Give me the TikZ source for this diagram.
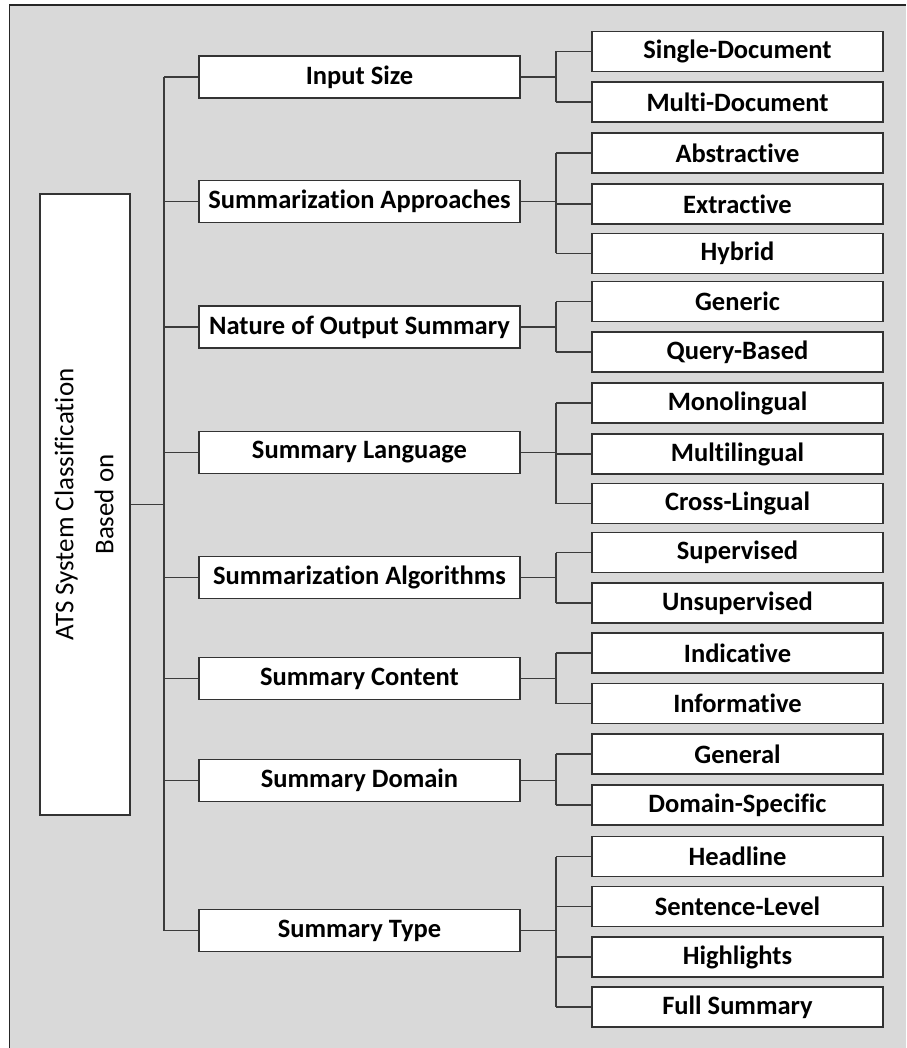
\documentclass[tikz,border=0pt]{standalone}
\usepackage{fontspec}
\setmainfont{Carlito}[Ligatures=NoCommon]
\definecolor{panel}{HTML}{D9D9D9}
\definecolor{wire}{HTML}{3C3C3C}
\begin{document}
\begin{tikzpicture}[x=1pt,y=-1pt,
  box/.style={draw=black!80,line width=1.5pt,fill=white,inner sep=0pt,anchor=center},
  rootbox/.style={box,minimum width=90pt,minimum height=621pt},
  catbox/.style={box,minimum width=321pt,minimum height=42pt,font=\fontsize{26.5}{30}\selectfont\bfseries},
  leafbox/.style={box,minimum width=291pt,minimum height=40pt,font=\fontsize{26.5}{30}\selectfont\bfseries},
  link/.style={draw=wire,line width=1.8pt}]
  % canvas and panel
  \useasboundingbox (0,0) rectangle (906,1048);
  \fill[white] (0,0) rectangle (906,1048);
  \fill[panel] (9.5,5) rectangle (906,1048);
  \draw[black!85,line width=1.5pt] (9.5,1048) -- (9.5,5) -- (906,5);

  % anchor columns for the two levels of branching
  \coordinate (tr) at (164,0);
  \coordinate (br) at (556,0);

  % root
  \node[rootbox] (root) at (85,504.5) {};
  \node[rotate=90,align=center,font=\fontsize{27}{40}\selectfont,anchor=center] (roottext) at (84,504.5)
    {ATS System Classification\\Based on};

  % categories
  \foreach \n/\y/\t in {c1/77/Input Size, c2/201.5/Summarization Approaches,
      c3/327/Nature of Output Summary, c4/452.5/Summary Language,
      c5/577.5/Summarization Algorithms, c6/678.5/Summary Content,
      c7/780.5/Summary Domain, c8/930.5/Summary Type}
    \node[catbox] (\n) at (359.5,\y) {\t};

  % leaves
  \foreach \n/\y/\t in {l1/51.5/Single-Document, l2/102/Multi-Document,
      l3/153/Abstractive, l4/204/Extractive, l5/253.5/Hybrid,
      l6/301.5/Generic, l7/352/Query-Based,
      l8/403/Monolingual, l9/454/Multilingual, l10/503.5/Cross-Lingual,
      l11/552.5/Supervised, l12/603/Unsupervised,
      l13/653/Indicative, l14/703.5/Informative,
      l15/754/General, l16/805/Domain-Specific,
      l17/856.5/Headline, l18/906.5/Sentence-Level, l19/957/Highlights, l20/1007/Full Summary}
    \node[leafbox] (\n) at (737.5,\y) {\t};

  % root to trunk
  \draw[link] (root.east) -- (root.east -| tr);
  \draw[link] (c1.west -| tr) -- (c8.west -| tr);
  \foreach \n in {c1,c2,c3,c4,c5,c6,c7,c8}
    \draw[link] (\n.west) -- (\n.west -| tr);

  % categories to leaves
  \foreach \c/\first/\last/\all in {c1/l1/l2/{l1,l2}, c2/l3/l5/{l3,l4,l5},
      c3/l6/l7/{l6,l7}, c4/l8/l10/{l8,l9,l10}, c5/l11/l12/{l11,l12},
      c6/l13/l14/{l13,l14}, c7/l15/l16/{l15,l16}, c8/l17/l20/{l17,l18,l19,l20}}{
    \draw[link] (\c.east) -- (\c.east -| br);
    \draw[link] (\first.west -| br) -- (\last.west -| br);
    \foreach \l in \all
      \draw[link] (\l.west) -- (\l.west -| br);
  }
\end{tikzpicture}
\end{document}
